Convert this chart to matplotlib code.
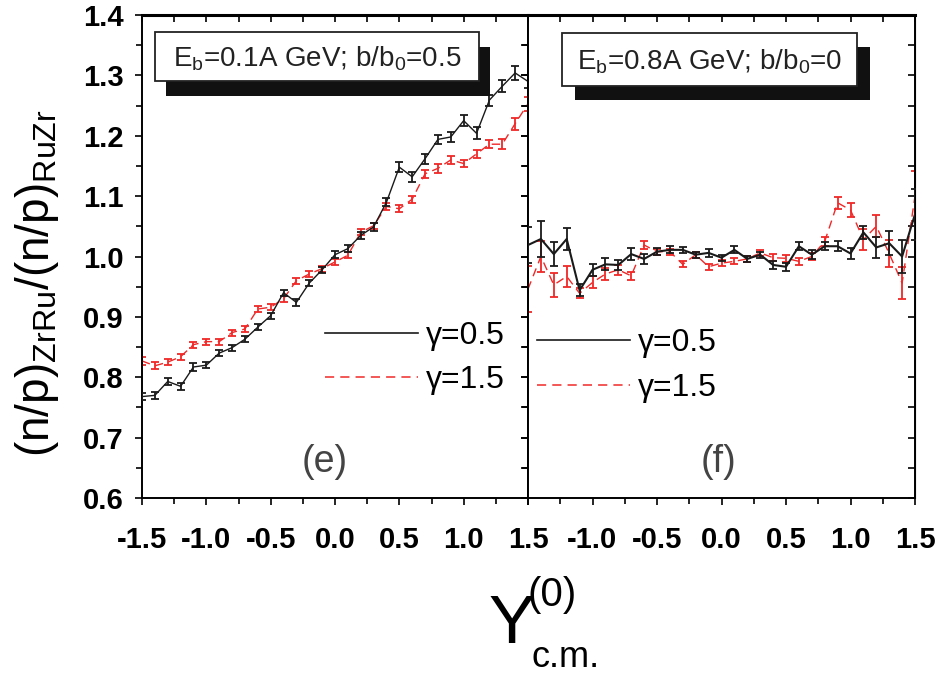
import numpy as np
import matplotlib
matplotlib.use("Agg")
import matplotlib.pyplot as plt
from matplotlib.lines import Line2D
from matplotlib.patches import Rectangle
from matplotlib.ticker import MultipleLocator, FormatStrFormatter

plt.rcParams['font.family'] = ['Liberation Sans', 'DejaVu Sans']
plt.rcParams['mathtext.fontset'] = 'custom'
plt.rcParams['mathtext.rm'] = 'Liberation Sans'
plt.rcParams['mathtext.it'] = 'Liberation Sans:italic'

# rapidity bins (same for both panels)
rap = [-1.5, -1.4, -1.3, -1.2, -1.1, -1.0, -0.9, -0.8, -0.7, -0.6, -0.5,
       -0.4, -0.3, -0.2, -0.1, 0.0, 0.1, 0.2, 0.3, 0.4, 0.5,
       0.6, 0.7, 0.8, 0.9, 1.0, 1.1, 1.2, 1.3, 1.4, 1.5]

# panel (e): Eb=0.1A GeV, b/b0=0.5
e_g05 = [0.768, 0.770, 0.793, 0.785, 0.817, 0.820, 0.840, 0.849, 0.863, 0.883, 0.902,
         0.940, 0.924, 0.956, 0.978, 1.003, 1.013, 1.035, 1.049, 1.090, 1.148,
         1.132, 1.162, 1.194, 1.198, 1.225, 1.204, 1.259, 1.282, 1.304, 1.290]
e_g05_err = [0.006, 0.006, 0.006, 0.006, 0.006, 0.005, 0.005, 0.005, 0.005, 0.005, 0.005,
             0.005, 0.006, 0.005, 0.005, 0.006, 0.006, 0.006, 0.006, 0.007, 0.008,
             0.008, 0.008, 0.007, 0.008, 0.009, 0.010, 0.009, 0.010, 0.011, 0.011]
e_g15 = [0.827, 0.819, 0.825, 0.834, 0.854, 0.859, 0.859, 0.874, 0.880, 0.913, 0.916,
         0.930, 0.960, 0.971, 0.980, 0.991, 1.002, 1.040, 1.051, 1.083, 1.079,
         1.095, 1.137, 1.146, 1.160, 1.154, 1.170, 1.186, 1.186, 1.220, 1.253]
e_g15_err = [0.006, 0.006, 0.005, 0.005, 0.005, 0.005, 0.005, 0.005, 0.005, 0.005, 0.005,
             0.005, 0.005, 0.005, 0.005, 0.005, 0.005, 0.005, 0.005, 0.006, 0.006,
             0.006, 0.007, 0.007, 0.006, 0.006, 0.007, 0.007, 0.008, 0.010, 0.012]

# panel (f): Eb=0.8A GeV, b/b0=0
f_g05 = [1.019, 1.029, 1.004, 1.029, 0.944, 0.978, 0.987, 0.986, 1.004, 0.996, 1.008,
         1.011, 1.011, 1.003, 1.006, 0.998, 1.011, 0.996, 1.003, 0.986, 0.983,
         1.017, 1.003, 1.017, 1.017, 1.005, 1.040, 1.015, 1.022, 1.000, 1.070]
f_g05_err = [0.030, 0.030, 0.020, 0.018, 0.010, 0.010, 0.010, 0.008, 0.010, 0.008, 0.006,
             0.006, 0.005, 0.005, 0.006, 0.005, 0.006, 0.005, 0.005, 0.007, 0.007,
             0.007, 0.007, 0.007, 0.008, 0.009, 0.011, 0.017, 0.020, 0.027, 0.042]
f_g15 = [0.946, 1.000, 0.953, 0.967, 0.939, 0.957, 0.971, 0.978, 0.968, 1.019, 1.008,
         1.008, 0.987, 1.003, 0.983, 0.989, 0.992, 0.996, 1.006, 0.998, 0.997,
         0.992, 1.000, 1.025, 1.089, 1.077, 1.028, 1.050, 1.005, 0.956, 1.100]
f_g15_err = [0.038, 0.025, 0.020, 0.017, 0.008, 0.010, 0.010, 0.008, 0.007, 0.006, 0.005,
             0.005, 0.005, 0.005, 0.005, 0.005, 0.005, 0.005, 0.005, 0.006, 0.006,
             0.006, 0.006, 0.008, 0.010, 0.012, 0.018, 0.018, 0.022, 0.026, 0.042]

panel_text = ['(e)', '(f)']
box_text = [r'$\mathregular{E_b}$=0.1A GeV; $\mathregular{b/b_0}$=0.5',
            r'$\mathregular{E_b}$=0.8A GeV; $\mathregular{b/b_0}$=0']
labels = ['\u03b3=0.5', '\u03b3=1.5']
red = '#f02828'

fig = plt.figure(figsize=(9.38, 6.76), dpi=100)
axl = fig.add_axes([142/938, 1-498/676, 386/938, 483/676])
axr = fig.add_axes([528/938, 1-498/676, 387/938, 483/676])

series = [(axl, e_g05, e_g05_err, e_g15, e_g15_err),
          (axr, f_g05, f_g05_err, f_g15, f_g15_err)]

for i, (ax, y1, e1, y2, e2) in enumerate(series):
    ax.errorbar(rap, y2, yerr=e2, color=red, lw=1.0, ls=(0, (6, 4)),
                elinewidth=1.3, capsize=2.6, capthick=1.3, zorder=2)
    ax.errorbar(rap, y1, yerr=e1, color='#1a1a1a', lw=1.0 if i == 0 else 1.5,
                elinewidth=1.3, capsize=2.6, capthick=1.3, zorder=3)
    ax.set_xlim(-1.5, 1.5)
    ax.set_ylim(0.6, 1.4)
    ax.xaxis.set_major_locator(MultipleLocator(0.5))
    ax.xaxis.set_minor_locator(MultipleLocator(0.25))
    ax.yaxis.set_major_locator(MultipleLocator(0.1))
    ax.yaxis.set_minor_locator(MultipleLocator(0.05))
    ax.xaxis.set_major_formatter(FormatStrFormatter('%.1f'))
    ax.yaxis.set_major_formatter(FormatStrFormatter('%.1f'))
    ax.tick_params(which='both', direction='out', width=1.2, labelsize=21)
    ax.tick_params(axis='x', pad=15)
    ax.tick_params(axis='y', pad=8)
    ax.tick_params(which='major', length=5)
    ax.tick_params(which='minor', length=4)
    for lab in ax.get_xticklabels() + ax.get_yticklabels():
        lab.set_fontweight('bold')
    for s in ax.spines.values():
        s.set_linewidth(1.4)
    ax.spines['top'].set_linewidth(2.2)

    top = ax.secondary_xaxis('top')
    top.xaxis.set_major_locator(MultipleLocator(0.5))
    top.xaxis.set_minor_locator(MultipleLocator(0.25))
    top.tick_params(which='both', direction='in', length=5, width=1.2, labeltop=False)
    rgt = ax.secondary_yaxis('right')
    rgt.yaxis.set_major_locator(MultipleLocator(0.1))
    rgt.yaxis.set_minor_locator(MultipleLocator(0.05))
    rgt.tick_params(which='both', direction='in', length=5, width=1.2, labelright=False)

    # label box with drop shadow
    bx = [(0.034, 0.863, 0.839, 0.102), (0.088, 0.853, 0.762, 0.110)][i]
    sh = [(0.0285, -0.031), (0.034, -0.029)][i]
    ax.add_patch(Rectangle((bx[0] + sh[0], bx[1] + sh[1]), bx[2], bx[3],
                           transform=ax.transAxes, facecolor='#111111',
                           edgecolor='none', zorder=5, clip_on=False))
    ax.add_patch(Rectangle((bx[0], bx[1]), bx[2], bx[3], transform=ax.transAxes,
                           facecolor='white', edgecolor='#222222', lw=1.3,
                           zorder=6, clip_on=False))
    ax.text(bx[0] + bx[2] / 2, bx[1] + bx[3] / 2 - 0.004, box_text[i],
            transform=ax.transAxes, ha='center', va='center', fontsize=20,
            color='#222222', zorder=7)

    ax.text([0.474, 0.491][i], 0.074, panel_text[i], transform=ax.transAxes,
            ha='center', va='center', fontsize=27, color='#444444')

    handles = [Line2D([], [], color='#1a1a1a', lw=1.2),
               Line2D([], [], color=red, lw=1.1, ls=(0, (6, 4)))]
    ax.legend(handles, labels, loc='center left',
              bbox_to_anchor=[(0.474, 0.290), (0.023, 0.274)][i],
              frameon=False, fontsize=23, handlelength=2.9, handletextpad=0.25,
              labelspacing=0.45, borderpad=0, borderaxespad=0)

axr.set_yticklabels([])
# the shared boundary shows only one "1.5"
axr.xaxis.set_major_formatter(plt.FuncFormatter(lambda v, p: '' if v < -1.4 else '%.1f' % v))

fig.text(37/938, 1-283/676, r'$\mathregular{(n/p)_{ZrRu}/(n/p)_{RuZr}}$',
         rotation=90, ha='center', va='center', fontsize=33)

fig.text(489/938, 1-643/676, 'Y', fontsize=50, ha='left', va='baseline')
fig.text(528/938, 1-606/676, '(0)', fontsize=29, ha='left', va='baseline')
fig.text(531/938, 1-667/676, 'c.m.', fontsize=26, ha='left', va='baseline')

fig.savefig('out.png', dpi=100)
